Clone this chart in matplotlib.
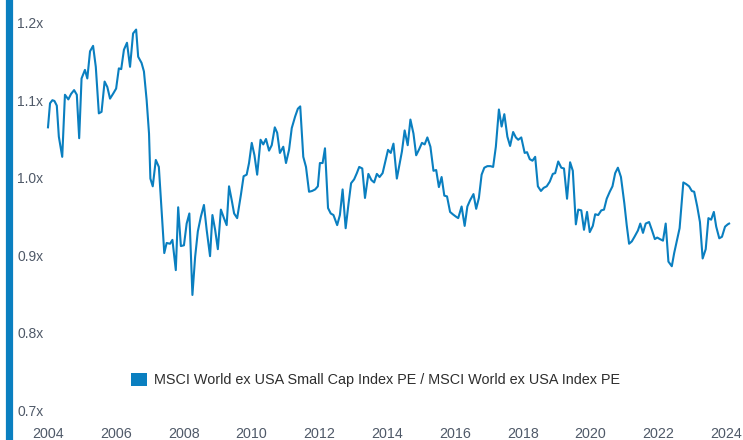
import matplotlib
matplotlib.use("Agg")
import matplotlib.pyplot as plt
from matplotlib.patches import Patch

# ---- data ----
years = [
    2004.00, 2004.06, 2004.13, 2004.19, 2004.26, 2004.32, 2004.42, 2004.50, 2004.60, 2004.68,
    2004.77, 2004.85, 2004.92, 2004.99, 2005.09, 2005.16, 2005.24, 2005.33, 2005.41, 2005.50,
    2005.58, 2005.67, 2005.75, 2005.83, 2005.93, 2006.01, 2006.09, 2006.16, 2006.24, 2006.33,
    2006.42, 2006.51, 2006.60, 2006.66, 2006.76, 2006.83, 2006.91, 2006.98, 2007.02, 2007.09,
    2007.18, 2007.27, 2007.35, 2007.43, 2007.50, 2007.60, 2007.67, 2007.77, 2007.84, 2007.92,
    2008.01, 2008.09, 2008.17, 2008.26, 2008.34, 2008.42, 2008.51, 2008.60, 2008.68, 2008.78,
    2008.85, 2008.93, 2009.01, 2009.10, 2009.19, 2009.27, 2009.34, 2009.42, 2009.49, 2009.58,
    2009.69, 2009.77, 2009.86, 2009.93, 2010.01, 2010.09, 2010.17, 2010.27, 2010.35, 2010.43,
    2010.52, 2010.60, 2010.69, 2010.76, 2010.84, 2010.94, 2011.02, 2011.11, 2011.19, 2011.29,
    2011.37, 2011.44, 2011.53, 2011.61, 2011.70, 2011.79, 2011.88, 2011.96, 2012.02, 2012.10,
    2012.17, 2012.26, 2012.34, 2012.42, 2012.53, 2012.61, 2012.69, 2012.78, 2012.86, 2012.94,
    2013.03, 2013.11, 2013.18, 2013.27, 2013.35, 2013.45, 2013.54, 2013.62, 2013.70, 2013.78,
    2013.87, 2013.95, 2014.03, 2014.11, 2014.19, 2014.29, 2014.36, 2014.44, 2014.52, 2014.61,
    2014.69, 2014.78, 2014.86, 2014.95, 2015.03, 2015.11, 2015.19, 2015.28, 2015.37, 2015.45,
    2015.53, 2015.61, 2015.69, 2015.77, 2015.86, 2015.94, 2016.03, 2016.10, 2016.20, 2016.29,
    2016.37, 2016.45, 2016.55, 2016.63, 2016.71, 2016.79, 2016.87, 2016.96, 2017.05, 2017.13,
    2017.21, 2017.30, 2017.38, 2017.46, 2017.55, 2017.63, 2017.72, 2017.80, 2017.87, 2017.96,
    2018.06, 2018.13, 2018.21, 2018.29, 2018.37, 2018.45, 2018.54, 2018.62, 2018.71, 2018.80,
    2018.89, 2018.96, 2019.05, 2019.14, 2019.22, 2019.31, 2019.40, 2019.48, 2019.57, 2019.64,
    2019.73, 2019.81, 2019.90, 2019.98, 2020.07, 2020.14, 2020.23, 2020.32, 2020.40, 2020.48,
    2020.57, 2020.65, 2020.73, 2020.81, 2020.90, 2021.00, 2021.07, 2021.14, 2021.22, 2021.30,
    2021.40, 2021.47, 2021.55, 2021.63, 2021.73, 2021.81, 2021.90, 2021.97, 2022.05, 2022.14,
    2022.22, 2022.30, 2022.40, 2022.47, 2022.55, 2022.63, 2022.74, 2022.82, 2022.91, 2022.99,
    2023.06, 2023.15, 2023.23, 2023.31, 2023.40, 2023.48, 2023.56, 2023.64, 2023.71, 2023.80,
    2023.88, 2023.97, 2024.05, 2024.09,
]
pe_ratio = [
    1.065, 1.096, 1.100, 1.099, 1.093, 1.053, 1.027, 1.107, 1.101, 1.108,
    1.113, 1.107, 1.051, 1.128, 1.139, 1.128, 1.163, 1.170, 1.143, 1.083,
    1.085, 1.124, 1.117, 1.102, 1.109, 1.115, 1.141, 1.140, 1.165, 1.174,
    1.143, 1.186, 1.191, 1.156, 1.148, 1.137, 1.100, 1.057, 0.999, 0.989,
    1.023, 1.014, 0.959, 0.903, 0.916, 0.915, 0.920, 0.881, 0.962, 0.912,
    0.913, 0.941, 0.954, 0.849, 0.898, 0.931, 0.950, 0.965, 0.933, 0.899,
    0.952, 0.933, 0.908, 0.959, 0.948, 0.939, 0.989, 0.971, 0.954, 0.948,
    0.978, 1.002, 1.004, 1.019, 1.045, 1.029, 1.004, 1.049, 1.043, 1.050,
    1.035, 1.042, 1.065, 1.058, 1.032, 1.040, 1.019, 1.036, 1.064, 1.079,
    1.089, 1.092, 1.027, 1.014, 0.982, 0.983, 0.985, 0.989, 1.019, 1.019,
    1.038, 0.961, 0.954, 0.952, 0.939, 0.952, 0.985, 0.935, 0.965, 0.993,
    0.998, 1.006, 1.014, 1.012, 0.974, 1.005, 0.997, 0.994, 1.005, 1.001,
    1.006, 1.021, 1.036, 1.032, 1.044, 0.999, 1.015, 1.034, 1.061, 1.042,
    1.075, 1.057, 1.029, 1.037, 1.045, 1.043, 1.052, 1.040, 1.009, 1.010,
    0.988, 1.001, 0.977, 0.976, 0.956, 0.953, 0.950, 0.948, 0.963, 0.938,
    0.963, 0.971, 0.979, 0.960, 0.974, 1.004, 1.013, 1.015, 1.015, 1.014,
    1.040, 1.088, 1.066, 1.082, 1.053, 1.041, 1.059, 1.052, 1.049, 1.052,
    1.032, 1.033, 1.024, 1.022, 1.027, 0.989, 0.983, 0.987, 0.989, 0.995,
    1.005, 1.006, 1.021, 1.013, 1.012, 0.973, 1.020, 1.009, 0.940, 0.959,
    0.958, 0.933, 0.956, 0.930, 0.938, 0.953, 0.952, 0.958, 0.959, 0.973,
    0.982, 0.989, 1.006, 1.013, 1.001, 0.967, 0.939, 0.915, 0.918, 0.924,
    0.932, 0.941, 0.929, 0.941, 0.943, 0.933, 0.921, 0.923, 0.921, 0.919,
    0.941, 0.892, 0.886, 0.903, 0.919, 0.935, 0.994, 0.992, 0.989, 0.983,
    0.982, 0.963, 0.943, 0.896, 0.908, 0.948, 0.946, 0.956, 0.937, 0.922,
    0.924, 0.937, 0.940, 0.941,
]
series_label = "MSCI World ex USA Small Cap Index PE / MSCI World ex USA Index PE"
x_ticks = [2004, 2006, 2008, 2010, 2012, 2014, 2016, 2018, 2020, 2022, 2024]
y_ticks = [0.7, 0.8, 0.9, 1.0, 1.1, 1.2]
y_tick_labels = ["0.7x", "0.8x", "0.9x", "1.0x", "1.1x", "1.2x"]

# ---- style ----
BLUE = "#0a7fc0"
TICK_COLOR = "#4f5968"
TEXT_COLOR = "#2e2e2e"

plt.rcParams["font.family"] = ["Liberation Sans", "DejaVu Sans"]

W, H = 743, 440
fig = plt.figure(figsize=(W / 100, H / 100), dpi=100)
left_px = 9
ax = fig.add_axes([left_px / W, 0, 1 - left_px / W, 1])

ax.plot(years, pe_ratio, color=BLUE, linewidth=1.5, solid_joinstyle="round")

# scales chosen so the layout matches the reference
ax.set_xlim(2002.85, 2024.50)
ax.set_ylim(0.6621, 1.2291)

for s in ["top", "right", "bottom"]:
    ax.spines[s].set_visible(False)
ax.spines["left"].set_color(BLUE)
ax.spines["left"].set_linewidth(5.2)

ax.set_yticks(y_ticks)
ax.set_yticklabels(y_tick_labels)
ax.tick_params(axis="y", length=0, pad=-5.8, labelsize=10, labelcolor=TICK_COLOR)
for lab in ax.get_yticklabels():
    lab.set_horizontalalignment("left")

ax.set_xticks(x_ticks)
ax.set_xticklabels([str(t) for t in x_ticks])
ax.tick_params(axis="x", length=0, pad=-9.3, labelsize=10.3, labelcolor=TICK_COLOR)

ax.set_facecolor("white")
fig.patch.set_facecolor("white")

handle = Patch(facecolor=BLUE, edgecolor="none")
fig.legend(handles=[handle], labels=[series_label], loc="center left",
           bbox_to_anchor=(131 / W, (H - 380) / H), frameon=False,
           borderpad=0, borderaxespad=0, handlelength=1.1, handleheight=1.1,
           handletextpad=0.5, fontsize=10.4, labelcolor=TEXT_COLOR)

fig.savefig("out.png", dpi=100, facecolor="white")
